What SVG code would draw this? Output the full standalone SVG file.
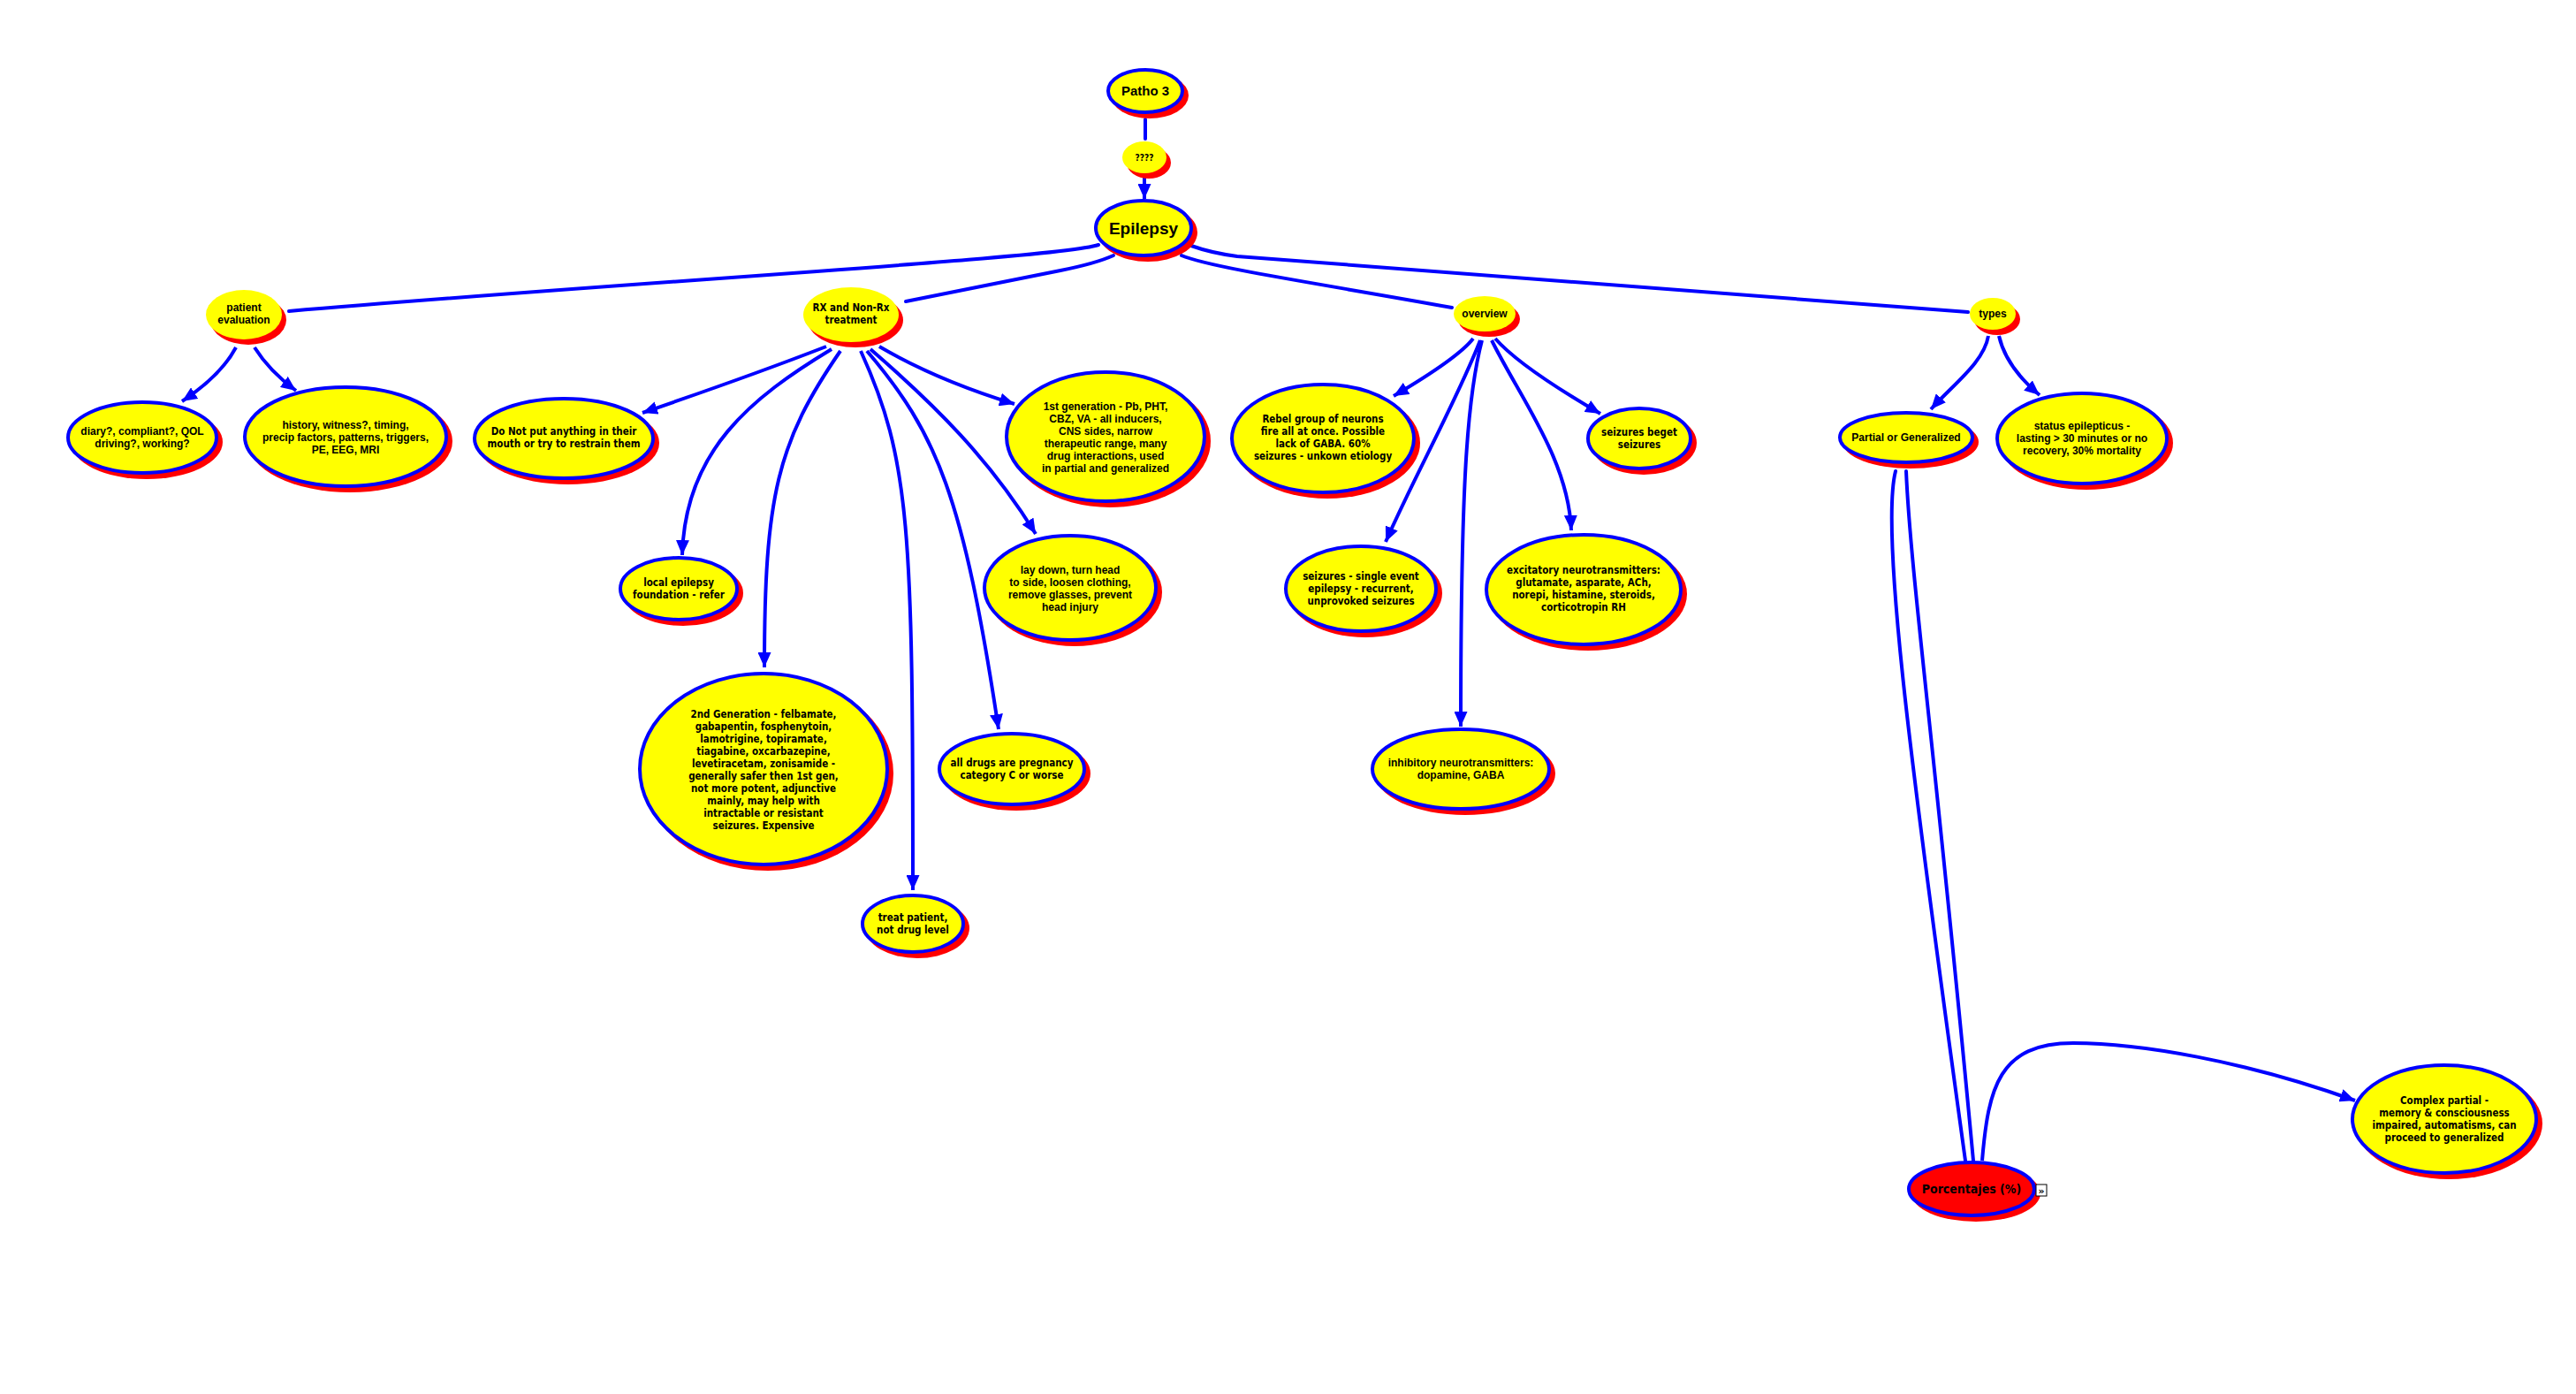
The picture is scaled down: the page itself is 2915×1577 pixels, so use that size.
<svg xmlns="http://www.w3.org/2000/svg" width="2915" height="1577" viewBox="0 0 2915 1577">
<style>
.sh{fill:#ff0000}
.nd{fill:#ffff00;stroke:#0000ff;stroke-width:4}
.nb{fill:#ffff00}
.pr{fill:#ff0000;stroke:#0000ff;stroke-width:4}
.t{font-family:"Liberation Sans",Arial,sans-serif;font-weight:bold;font-size:12px;text-anchor:middle;fill:#000}
.c{font-family:"DejaVu Sans Condensed","Liberation Sans",sans-serif;font-weight:bold;font-size:11.5px;text-anchor:middle;fill:#000}
.ln{fill:none;stroke:#0000ff;stroke-width:4;stroke-linecap:round}
.ar{fill:none;stroke:#0000ff;stroke-width:4;stroke-linecap:butt;marker-end:url(#ah)}
</style>
<defs>
<marker id="ah" markerUnits="userSpaceOnUse" markerWidth="18" markerHeight="15" refX="17" refY="7.5" orient="auto">
<path d="M0,0 L17,7.5 L0,15 z" fill="#0000ff"/>
</marker>
</defs>
<rect width="2915" height="1577" fill="#ffffff"/>

<g id="connectors">
<path class="ln" d="M1296,135 L1296,157"/>
<path class="ar" d="M1295,199 L1295,225"/>
<path class="ln" d="M1243,277 C1200,292 700,320 327,352"/>
<path class="ln" d="M1260,289 Q1240,298 1200,306 L1025,341"/>
<path class="ln" d="M1337,289 C1370,303 1500,322 1643,348"/>
<path class="ln" d="M1348,278 Q1370,286 1400,290 L2227,353"/>
<path class="ar" d="M267,393 Q250,425 206,454"/>
<path class="ar" d="M288,393 Q305,420 335,442"/>
<path class="ar" d="M935,392 Q850,425 727,467"/>
<path class="ar" d="M941,395 C850,450 775,510 772,628"/>
<path class="ar" d="M951,397 C880,500 865,560 865,755"/>
<path class="ar" d="M974,397 C1030,520 1033,600 1033,1007"/>
<path class="ar" d="M981,397 C1060,490 1090,560 1130,825"/>
<path class="ar" d="M985,395 C1060,460 1120,520 1172,604"/>
<path class="ar" d="M995,392 Q1060,430 1148,457"/>
<path class="ar" d="M1667,383 Q1650,405 1577,448"/>
<path class="ar" d="M1675,385 C1650,450 1600,540 1568,613"/>
<path class="ar" d="M1677,385 C1660,450 1653,550 1653,822"/>
<path class="ar" d="M1688,385 C1720,450 1775,520 1778,600"/>
<path class="ar" d="M1692,383 Q1720,415 1811,468"/>
<path class="ar" d="M2250,380 C2245,410 2210,435 2185,463"/>
<path class="ar" d="M2262,380 Q2270,415 2308,447"/>
<path class="ln" d="M2145,533 C2128,600 2160,850 2224,1313"/>
<path class="ln" d="M2157,533 C2162,650 2190,850 2233,1313"/>
<path class="ar" d="M2243,1313 C2250,1230 2262,1180 2346,1180 C2420,1180 2540,1200 2665,1245"/>
</g>

<g id="patho3"><ellipse class="sh" cx="1301" cy="108" rx="44" ry="26"/><ellipse class="nd" cx="1296" cy="103" rx="42" ry="24"/><text class="t" style="font-size:15px" x="1296" y="108">Patho 3</text></g>
<g id="qqqq"><ellipse class="sh" cx="1300" cy="184" rx="25" ry="18"/><ellipse class="nb" cx="1295" cy="178" rx="25" ry="18"/><text class="c" style="font-size:10px" x="1295" y="182">????</text></g>
<g id="epilepsy"><ellipse class="sh" cx="1299" cy="263" rx="56" ry="33"/><ellipse class="nd" cx="1294" cy="258" rx="54" ry="31"/><text class="t" style="font-size:19px" x="1294" y="265">Epilepsy</text></g>
<g id="patient-evaluation"><ellipse class="sh" cx="281" cy="362" rx="43" ry="28"/><ellipse class="nb" cx="276" cy="356" rx="43" ry="28"/><text class="t" x="276" y="352">patient</text><text class="t" x="276" y="366">evaluation</text></g>
<g id="rx-treatment"><ellipse class="sh" cx="968" cy="362" rx="54" ry="31"/><ellipse class="nb" cx="963" cy="356" rx="54" ry="31"/><text class="c" x="963" y="352">RX and Non-Rx</text><text class="c" x="963" y="366">treatment</text></g>
<g id="overview"><ellipse class="sh" cx="1685" cy="361" rx="35" ry="20"/><ellipse class="nb" cx="1680" cy="355" rx="35" ry="20"/><text class="t" x="1680" y="359">overview</text></g>
<g id="types"><ellipse class="sh" cx="2260" cy="361" rx="26" ry="18"/><ellipse class="nb" cx="2255" cy="355" rx="26" ry="18"/><text class="t" x="2255" y="359">types</text></g>

<g id="diary"><ellipse class="sh" cx="166" cy="500" rx="86" ry="42"/><ellipse class="nd" cx="161" cy="495" rx="84" ry="40"/><text class="t" x="161" y="492">diary?, compliant?, QOL</text><text class="t" x="161" y="506">driving?, working?</text></g>
<g id="history"><ellipse class="sh" cx="396" cy="499" rx="116" ry="58"/><ellipse class="nd" cx="391" cy="494" rx="114" ry="56"/><text class="t" x="391" y="485">history, witness?, timing,</text><text class="t" x="391" y="499">precip factors, patterns, triggers,</text><text class="t" x="391" y="513">PE, EEG, MRI</text></g>
<g id="do-not"><ellipse class="sh" cx="643" cy="501" rx="103" ry="47"/><ellipse class="nd" cx="638" cy="496" rx="101" ry="45"/><text class="c" x="638" y="492">Do Not put anything in their</text><text class="c" x="638" y="506">mouth or try to restrain them</text></g>
<g id="local-epilepsy"><ellipse class="sh" cx="773" cy="671" rx="68" ry="37"/><ellipse class="nd" cx="768" cy="666" rx="66" ry="35"/><text class="c" x="768" y="663">local epilepsy</text><text class="c" x="768" y="677">foundation - refer</text></g>
<g id="first-generation"><ellipse class="sh" cx="1256" cy="499" rx="114" ry="75"/><ellipse class="nd" cx="1251" cy="494" rx="112" ry="73"/><text class="t" x="1251" y="464">1st generation - Pb, PHT,</text><text class="t" x="1251" y="478">CBZ, VA - all inducers,</text><text class="t" x="1251" y="492">CNS sides, narrow</text><text class="t" x="1251" y="506">therapeutic range, many</text><text class="t" x="1251" y="520">drug interactions, used</text><text class="t" x="1251" y="534">in partial and generalized</text></g>
<g id="lay-down"><ellipse class="sh" cx="1216" cy="670" rx="99" ry="61"/><ellipse class="nd" cx="1211" cy="665" rx="97" ry="59"/><text class="t" x="1211" y="649">lay down, turn head</text><text class="t" x="1211" y="663">to side, loosen clothing,</text><text class="t" x="1211" y="677">remove glasses, prevent</text><text class="t" x="1211" y="691">head injury</text></g>
<g id="second-generation"><ellipse class="sh" cx="869" cy="875" rx="142" ry="110"/><ellipse class="nd" cx="864" cy="870" rx="140" ry="108"/><text class="c" x="864" y="812">2nd Generation - felbamate,</text><text class="c" x="864" y="826">gabapentin, fosphenytoin,</text><text class="c" x="864" y="840">lamotrigine, topiramate,</text><text class="c" x="864" y="854">tiagabine, oxcarbazepine,</text><text class="c" x="864" y="868">levetiracetam, zonisamide -</text><text class="c" x="864" y="882">generally safer then 1st gen,</text><text class="c" x="864" y="896">not more potent, adjunctive</text><text class="c" x="864" y="910">mainly, may help with</text><text class="c" x="864" y="924">intractable or resistant</text><text class="c" x="864" y="938">seizures. Expensive</text></g>
<g id="all-drugs"><ellipse class="sh" cx="1150" cy="875" rx="84" ry="42"/><ellipse class="nd" cx="1145" cy="870" rx="82" ry="40"/><text class="c" x="1145" y="867">all drugs are pregnancy</text><text class="c" x="1145" y="881">category C or worse</text></g>
<g id="treat-patient"><ellipse class="sh" cx="1038" cy="1050" rx="59" ry="34"/><ellipse class="nd" cx="1033" cy="1045" rx="57" ry="32"/><text class="c" x="1033" y="1042">treat patient,</text><text class="c" x="1033" y="1056">not drug level</text></g>

<g id="rebel"><ellipse class="sh" cx="1502" cy="501" rx="105" ry="63"/><ellipse class="nd" cx="1497" cy="496" rx="103" ry="61"/><text class="c" x="1497" y="478">Rebel group of neurons</text><text class="c" x="1497" y="492">fire all at once. Possible</text><text class="c" x="1497" y="506">lack of GABA. 60%</text><text class="c" x="1497" y="520">seizures - unkown etiology</text></g>
<g id="seizures-beget"><ellipse class="sh" cx="1860" cy="501" rx="60" ry="36"/><ellipse class="nd" cx="1855" cy="496" rx="58" ry="34"/><text class="c" x="1855" y="493">seizures beget</text><text class="c" x="1855" y="507">seizures</text></g>
<g id="seizures-single"><ellipse class="sh" cx="1545" cy="671" rx="87" ry="50"/><ellipse class="nd" cx="1540" cy="666" rx="85" ry="48"/><text class="c" x="1540" y="656">seizures - single event</text><text class="c" x="1540" y="670">epilepsy - recurrent,</text><text class="c" x="1540" y="684">unprovoked seizures</text></g>
<g id="excitatory"><ellipse class="sh" cx="1797" cy="672" rx="112" ry="64"/><ellipse class="nd" cx="1792" cy="667" rx="110" ry="62"/><text class="c" x="1792" y="649">excitatory neurotransmitters:</text><text class="c" x="1792" y="663">glutamate, asparate, ACh,</text><text class="c" x="1792" y="677">norepi, histamine, steroids,</text><text class="c" x="1792" y="691">corticotropin RH</text></g>
<g id="inhibitory"><ellipse class="sh" cx="1658" cy="875" rx="102" ry="47"/><ellipse class="nd" cx="1653" cy="870" rx="100" ry="45"/><text class="t" x="1653" y="867">inhibitory neurotransmitters:</text><text class="t" x="1653" y="881">dopamine, GABA</text></g>

<g id="partial-generalized"><ellipse class="sh" cx="2162" cy="500" rx="77" ry="30"/><ellipse class="nd" cx="2157" cy="495" rx="75" ry="28"/><text class="t" x="2157" y="499">Partial or Generalized</text></g>
<g id="status-epilepticus"><ellipse class="sh" cx="2361" cy="501" rx="98" ry="53"/><ellipse class="nd" cx="2356" cy="496" rx="96" ry="51"/><text class="t" x="2356" y="486">status epilepticus -</text><text class="t" x="2356" y="500">lasting &gt; 30 minutes or no</text><text class="t" x="2356" y="514">recovery, 30% mortality</text></g>
<g id="porcentajes"><ellipse class="sh" cx="2236" cy="1350" rx="73" ry="32"/><ellipse class="pr" cx="2231" cy="1345" rx="71" ry="30"/><text class="c" style="font-size:14px" x="2231" y="1350">Porcentajes (%)</text><rect x="2304" y="1340" width="12" height="13" fill="#ffffff" stroke="#000000" stroke-width="1"/><text x="2310" y="1351" style="font-family:'DejaVu Sans',sans-serif;font-size:11px;font-weight:bold;text-anchor:middle">»</text></g>
<g id="complex-partial"><ellipse class="sh" cx="2771" cy="1271" rx="106" ry="63"/><ellipse class="nd" cx="2766" cy="1266" rx="104" ry="61"/><text class="c" x="2766" y="1249">Complex partial -</text><text class="c" x="2766" y="1263">memory &amp; consciousness</text><text class="c" x="2766" y="1277">impaired, automatisms, can</text><text class="c" x="2766" y="1291">proceed to generalized</text></g>
</svg>
